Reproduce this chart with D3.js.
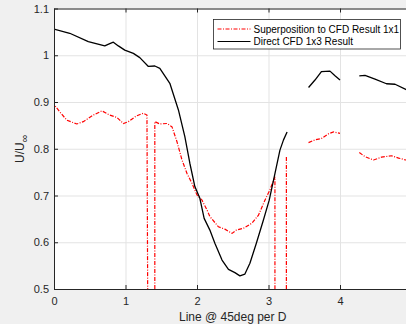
<!DOCTYPE html>
<html>
<head>
<meta charset="utf-8">
<script src="https://cdn.jsdelivr.net/npm/d3@7"></script>
<style>
	body { margin: 0; background: #f0f0f0; }
	svg { display: block; font-family: "Liberation Sans", Arial, sans-serif; }
	.axis text { fill: #262626; font-size: 11px; }
	.axis path, .axis line { stroke: #262626; }
	.grid line { stroke: #e3e3e3; }
	.grid path { display: none; }
</style>
</head>
<body>
<div id="graphic"></div>
<script>
// Chart values
const xTicks = [0, 1, 2, 3, 4];
const yTicks = [0.5, 0.6, 0.7, 0.8, 0.9, 1, 1.1];
const seriesNames = ['Superposition to CFD Result 1x1', 'Direct CFD 1x3 Result'];

// Superposition to CFD Result 1x1 (null = gap)
const superposition = [
	[0, 0.80], [0.003, 0.894], [0.08, 0.879], [0.18, 0.861], [0.32, 0.853], [0.41, 0.858],
	[0.55, 0.872], [0.67, 0.881], [0.78, 0.872], [0.88, 0.867], [0.97, 0.854], [1.04, 0.858],
	[1.15, 0.870], [1.25, 0.876], [1.30, 0.872], [1.31, 0.5],
	null,
	[1.41, 0.5], [1.41, 0.858], [1.48, 0.853], [1.58, 0.854], [1.65, 0.847], [1.72, 0.815],
	[1.79, 0.776], [1.86, 0.747], [1.93, 0.726], [2.0, 0.701], [2.07, 0.690], [2.14, 0.669],
	[2.18, 0.655], [2.30, 0.633], [2.39, 0.628], [2.49, 0.619], [2.55, 0.626], [2.65, 0.630],
	[2.77, 0.641], [2.86, 0.658], [2.95, 0.690], [3.02, 0.712], [3.09, 0.740], [3.09, 0.5],
	null,
	[3.25, 0.5], [3.25, 0.785],
	null,
	[3.56, 0.813], [3.65, 0.819], [3.74, 0.822], [3.84, 0.832], [3.91, 0.836], [4.0, 0.833],
	null,
	[4.27, 0.792], [4.35, 0.783], [4.47, 0.776], [4.58, 0.782], [4.72, 0.785], [4.82, 0.780],
	[4.92, 0.776], [5.0, 0.775]
];

// Direct CFD 1x3 Result (null = gap)
const directCfd = [
	[0, 1.056], [0.22, 1.047], [0.48, 1.029], [0.71, 1.020], [0.78, 1.025], [0.83, 1.028],
	[0.90, 1.020], [0.99, 1.011], [1.11, 1.004], [1.20, 0.995], [1.32, 0.976], [1.41, 0.977],
	[1.48, 0.972], [1.62, 0.940], [1.74, 0.883], [1.83, 0.826], [1.90, 0.769], [1.97, 0.719],
	[2.04, 0.694], [2.10, 0.651], [2.18, 0.626], [2.25, 0.598], [2.35, 0.562], [2.44, 0.542],
	[2.53, 0.535], [2.60, 0.528], [2.67, 0.532], [2.74, 0.555], [2.83, 0.598], [2.93, 0.648],
	[3.01, 0.690], [3.09, 0.747], [3.16, 0.797], [3.21, 0.819], [3.26, 0.836],
	null,
	[3.56, 0.931], [3.65, 0.947], [3.74, 0.965], [3.86, 0.966], [3.93, 0.956], [4.0, 0.947],
	null,
	[4.27, 0.956], [4.35, 0.957], [4.49, 0.949], [4.65, 0.939], [4.77, 0.938], [4.92, 0.927],
	[5.0, 0.922]
];

function drawGraphic() {
	const width = 406, totalHeight = 324;
	const margin = { top: 8.5, left: 54 };
	const chart_width = 357.5; // x runs 0..5, the right part is cut off by the window
	const height = 280.5;

	const svg = d3.select('#graphic').append('svg')
		.attr('width', width)
		.attr('height', totalHeight);

	const g = svg.append('g')
		.attr('transform', `translate(${margin.left},${margin.top})`);

	const x = d3.scaleLinear().domain([0, 5]).range([0, chart_width]);
	const y = d3.scaleLinear().domain([0.5, 1.1]).range([height, 0]);

	// plot background
	g.append('rect')
		.attr('width', chart_width)
		.attr('height', height)
		.attr('fill', '#ffffff');

	g.append('clipPath').attr('id', 'plot-clip')
		.append('rect')
		.attr('width', chart_width)
		.attr('height', height);

	// grid lines
	g.append('g')
		.attr('class', 'grid')
		.call(d3.axisLeft(y).tickValues(yTicks).tickSize(-chart_width).tickFormat(''));
	g.append('g')
		.attr('class', 'grid')
		.call(d3.axisBottom(x).tickValues(xTicks).tickSize(height).tickFormat(''));

	// the lines
	const line = d3.line()
		.defined(d => d !== null)
		.x(d => x(d[0]))
		.y(d => y(d[1]));

	const plot = g.append('g').attr('clip-path', 'url(#plot-clip)');

	plot.append('path')
		.datum(superposition)
		.attr('fill', 'none')
		.attr('stroke', '#ff0000')
		.attr('stroke-width', 1.2)
		.attr('stroke-dasharray', '4,1.5,1,1.5')
		.attr('d', line);

	plot.append('path')
		.datum(directCfd)
		.attr('fill', 'none')
		.attr('stroke', '#000000')
		.attr('stroke-width', 1.3)
		.style('stroke-linejoin', 'round')
		.attr('d', line);

	// axes, ticks pointing inward
	g.append('g')
		.attr('class', 'x axis')
		.attr('transform', `translate(0,${height})`)
		.call(d3.axisBottom(x).tickValues(xTicks).tickSizeInner(-4).tickSizeOuter(0).tickPadding(8)
			.tickFormat(d3.format('d')));

	g.append('g')
		.attr('class', 'x axis top')
		.call(d3.axisTop(x).tickValues(xTicks).tickSizeInner(-4).tickSizeOuter(0).tickFormat(''));

	g.append('g')
		.attr('class', 'y axis')
		.call(d3.axisLeft(y).tickValues(yTicks).tickSizeInner(-4).tickSizeOuter(0).tickPadding(5)
			.tickFormat(d => d3.format('')(+d.toFixed(1))));

	// axis labels
	g.append('text')
		.attr('x', chart_width / 2)
		.attr('y', totalHeight - margin.top - 3)
		.attr('text-anchor', 'middle')
		.attr('fill', '#262626')
		.style('font-size', '12px')
		.text('Line @ 45deg per D');

	const yLabel = g.append('text')
		.attr('transform', `translate(${24 - margin.left},${height / 2}) rotate(-90)`)
		.attr('text-anchor', 'middle')
		.attr('fill', '#262626')
		.style('font-size', '12px');
	yLabel.append('tspan').text('U/U');
	yLabel.append('tspan').attr('dy', 4).style('font-size', '11px').text('∞');

	// legend
	const legend = svg.append('g').attr('transform', 'translate(213.5,19.5)');
	legend.append('rect')
		.attr('width', 187)
		.attr('height', 29.5)
		.attr('fill', '#ffffff')
		.attr('stroke', '#262626')
		.attr('stroke-width', 0.8);

	const legendStyles = [
		{ stroke: '#ff0000', dash: '4,1.5,1,1.5' },
		{ stroke: '#000000', dash: null }
	];
	seriesNames.forEach((name, i) => {
		const row = legend.append('g').attr('transform', `translate(0,${9.5 + i * 12.5})`);
		row.append('line')
			.attr('x1', 4).attr('x2', 37)
			.attr('stroke', legendStyles[i].stroke)
			.attr('stroke-width', 1.2)
			.attr('stroke-dasharray', legendStyles[i].dash);
		row.append('text')
			.attr('x', 40)
			.attr('dy', '0.35em')
			.attr('fill', '#000000')
			.style('font-size', '10px')
			.text(name);
	});
}

drawGraphic();
</script>
</body>
</html>
